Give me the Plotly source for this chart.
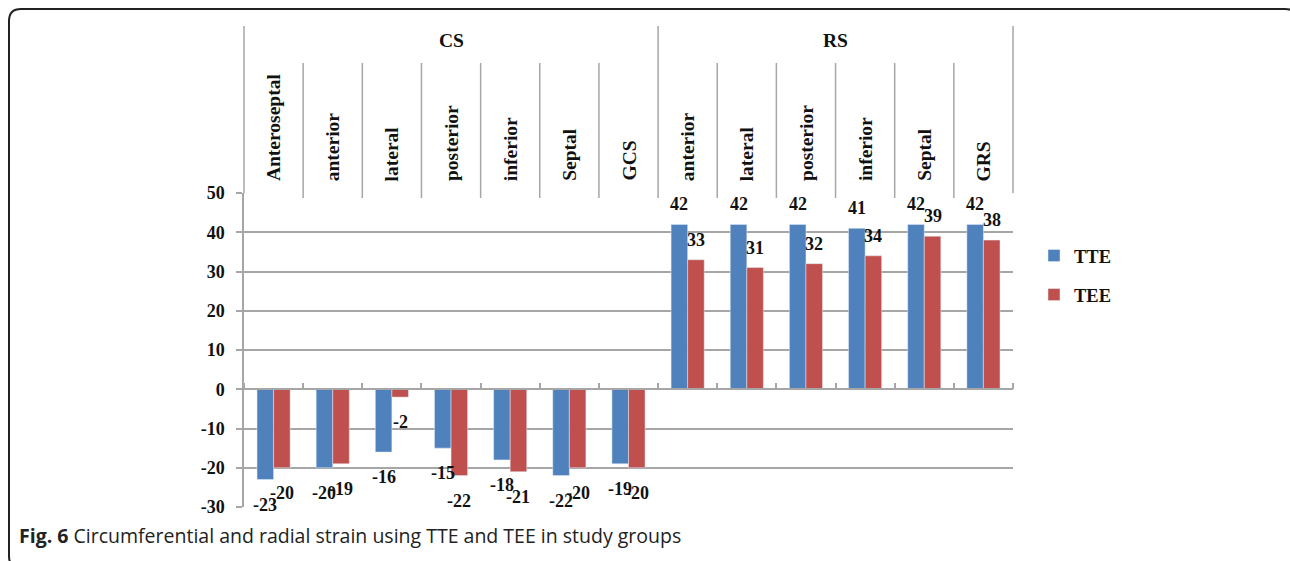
import plotly.graph_objects as go

# ---- data ----
groups = ["CS"] * 7 + ["RS"] * 6
categories = ["Anteroseptal", "anterior", "lateral", "posterior", "inferior", "Septal", "GCS",
              "anterior", "lateral", "posterior", "inferior", "Septal", "GRS"]
tte = [-23, -20, -16, -15, -18, -22, -19, 42, 42, 42, 41, 42, 42]
tee = [-20, -19, -2, -22, -21, -20, -20, 33, 31, 32, 34, 39, 38]
y_ticks = [-30, -20, -10, 0, 10, 20, 30, 40, 50]
caption = "<b>Fig. 6</b> Circumferential and radial strain using TTE and TEE in study groups"

# ---- layout geometry (pixels) ----
W, H = 1290, 561
L, R, T, B = 244, 1013, 193, 507
YMIN, YMAX = -30, 50
keys = [f"{g} {c}" for g, c in zip(groups, categories)]
n = len(keys)


def px(x):
    return (x - L) / (R - L)


def py(y):
    return (B - y) / (B - T)


SERIF = "Liberation Serif"
GRID = "#a6a6a6"
BLUE = "#4F81BD"
RED = "#C0504D"
BAR_GAP = 0.44
bar_px = (R - L) / n * (1 - BAR_GAP) / 2

fig = go.Figure()
fig.add_trace(go.Bar(x=keys, y=tte, name="TTE", marker_color=BLUE, legendgroup="a"))
fig.add_trace(go.Bar(x=keys, y=tee, name="TEE", marker_color=RED, legendgroup="b"))

annotations = []
# data labels
for vals, shift in ((tte, -bar_px / 2), (tee, bar_px / 2)):
    for i, v in enumerate(vals):
        annotations.append(dict(
            x=i, y=v, xref="x", yref="y", text=str(v), showarrow=False,
            xshift=shift, yshift=20 if v >= 0 else -25, yanchor="middle",
            font=dict(family=SERIF, size=18, color="#111", weight="bold")))

# category labels (rotated) in header
for i, c in enumerate(categories):
    annotations.append(dict(
        x=i, y=py(183), xref="x", yref="paper", text=c, textangle=-90,
        showarrow=False, yanchor="bottom", xanchor="center",
        font=dict(family=SERIF, size=19.5, color="#111", weight="bold")))

# group labels
for g in ["CS", "RS"]:
    idx = [i for i, gg in enumerate(groups) if gg == g]
    annotations.append(dict(
        x=(idx[0] + idx[-1]) / 2, y=py(40), xref="x", yref="paper", text=g,
        showarrow=False, yanchor="middle",
        font=dict(family=SERIF, size=19.5, color="#111", weight="bold")))

# caption
annotations.append(dict(
    x=px(17), y=py(535), xref="paper", yref="paper", text=caption, showarrow=False,
    xanchor="left", yanchor="middle", font=dict(family="Open Sans", size=19.5, color="#222")))

shapes = []
# header vertical lines
for i in range(n - 1):
    is_group = groups[i] != groups[i + 1]
    shapes.append(dict(type="line", xref="x", yref="paper", x0=i + 0.5, x1=i + 0.5,
                       y0=py(26 if is_group else 63), y1=py(198),
                       line=dict(color=GRID, width=1.5)))
for xe in (0, 1):
    shapes.append(dict(type="line", xref="paper", yref="paper", x0=xe, x1=xe,
                       y0=py(26), y1=1, line=dict(color=GRID, width=1.5)))

# outer rounded frame
bl, bt, br, bb, rad = 9, 9, 1297, 568, 12
path = (f"M {px(bl)},{py(bt + rad)} Q {px(bl)},{py(bt)} {px(bl + rad)},{py(bt)} "
        f"L {px(br - rad)},{py(bt)} Q {px(br)},{py(bt)} {px(br)},{py(bt + rad)} "
        f"L {px(br)},{py(bb - rad)} Q {px(br)},{py(bb)} {px(br - rad)},{py(bb)} "
        f"L {px(bl + rad)},{py(bb)} Q {px(bl)},{py(bb)} {px(bl)},{py(bb - rad)} Z")
shapes.append(dict(type="path", xref="paper", yref="paper", path=path,
                   line=dict(color="#222", width=2)))

fig.update_layout(
    width=W, height=H,
    margin=dict(l=L, r=W - R, t=T, b=H - B, pad=0),
    paper_bgcolor="white", plot_bgcolor="white",
    barmode="group", bargap=BAR_GAP, bargroupgap=0,
    showlegend=True,
    legend=dict(x=px(1034), y=py(237), xanchor="left", yanchor="top",
                font=dict(family=SERIF, size=18.5, color="#111", weight="bold"),
                tracegroupgap=12, bgcolor="rgba(0,0,0,0)", itemclick=False),
    annotations=annotations, shapes=shapes,
    xaxis=dict(type="category", range=[-0.5, n - 0.5], showticklabels=False,
               showgrid=False, anchor="free", position=(0 - YMIN) / (YMAX - YMIN),
               side="top", ticks="outside", tickson="boundaries", ticklen=6,
               tickcolor=GRID, tickwidth=1.5, showline=True, linecolor=GRID,
               linewidth=1.5, fixedrange=True),
    yaxis=dict(range=[YMIN, YMAX], tickvals=y_ticks, ticktext=[str(v) for v in y_ticks],
               showgrid=True, gridcolor=GRID,
               gridwidth=1.5, zeroline=False, showline=True, linecolor=GRID,
               linewidth=1.5, ticks="outside", ticklen=6, tickcolor=GRID,
               tickwidth=1.5, ticklabelstandoff=8,
               tickfont=dict(family=SERIF, size=18, color="#111", weight="bold"),
               fixedrange=True),
)

fig.write_html("out.html")
